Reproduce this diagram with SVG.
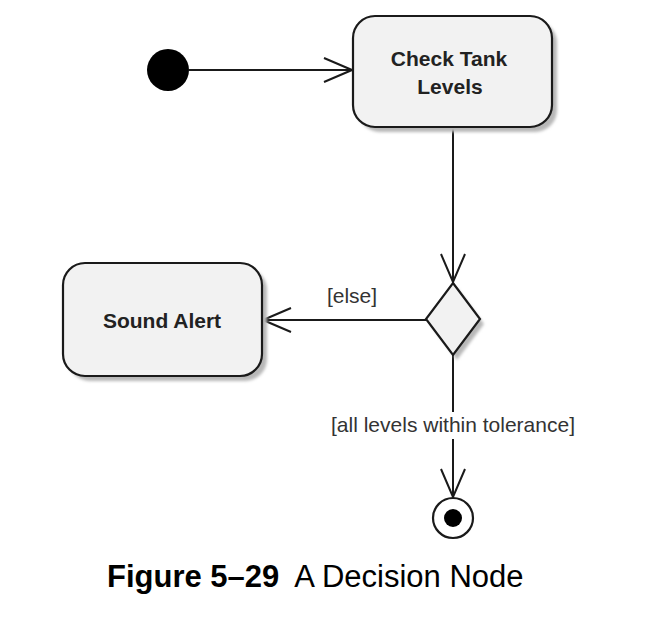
<svg xmlns="http://www.w3.org/2000/svg" width="668" height="642" viewBox="0 0 668 642">
<style>
.box{fill:#f2f2f2;stroke:#1a1a1a;stroke-width:2.2}
.shadow{fill:#b8b8b8;filter:url(#blur)}
.edge{fill:none;stroke:#1a1a1a;stroke-width:2}
.name{font-family:"Liberation Sans",Arial,sans-serif;font-weight:bold;font-size:21px;fill:#222;text-anchor:middle}
.guard{font-family:"Liberation Sans",Arial,sans-serif;font-size:21px;fill:#333;text-anchor:middle}
.cap{font-family:"Liberation Sans",Arial,sans-serif;font-size:31px;fill:#000}
</style>
<defs>
<filter id="blur" x="-10%" y="-10%" width="120%" height="120%"><feGaussianBlur stdDeviation="1.5"/></filter>
<marker id="open" viewBox="0 0 30 26" refX="29" refY="13" markerWidth="30" markerHeight="26" markerUnits="userSpaceOnUse" orient="auto">
<path d="M1,1 L29,13 L1,25" fill="none" stroke="#1a1a1a" stroke-width="2"/>
</marker>
</defs>
<rect width="668" height="642" fill="#fff"/>
<g id="connectors">
<line class="edge" x1="189" y1="70" x2="352" y2="70" marker-end="url(#open)"/>
<line class="edge" x1="453" y1="128" x2="453" y2="282" marker-end="url(#open)"/>
<line class="edge" x1="426" y1="320" x2="263" y2="320" marker-end="url(#open)"/>
<text class="guard" x="352" y="303">[else]</text>
<line class="edge" x1="453" y1="355" x2="453" y2="412"/>
<line class="edge" x1="453" y1="439" x2="453" y2="497" marker-end="url(#open)"/>
<text class="guard" x="453" y="432">[all levels within tolerance]</text>
</g>
<g id="initial">
<circle cx="168" cy="70" r="21" fill="#000"/>
</g>
<g id="check-tank-levels">
<rect class="shadow" x="358" y="21" width="199" height="111" rx="22"/>
<rect class="box" x="353" y="16" width="199" height="111" rx="22"/>
<text class="name" x="449" y="66">Check Tank</text>
<text class="name" x="450" y="94">Levels</text>
</g>
<g id="decision">
<polygon class="shadow" points="457,288 484,324 457,360 430,324"/>
<polygon class="box" points="453,283 480,319 453,355 426,319"/>
</g>
<g id="sound-alert">
<rect class="shadow" x="68" y="268" width="199" height="113" rx="22"/>
<rect class="box" x="63" y="263" width="199" height="113" rx="22"/>
<text class="name" x="162" y="328">Sound Alert</text>
</g>
<g id="final">
<circle cx="453" cy="518" r="20" fill="#fff" stroke="#1a1a1a" stroke-width="2.2"/>
<circle cx="453" cy="518" r="9" fill="#000"/>
</g>
<text class="cap" x="107" y="587"><tspan font-weight="bold">Figure 5–29</tspan><tspan dx="15">A Decision Node</tspan></text>
</svg>
